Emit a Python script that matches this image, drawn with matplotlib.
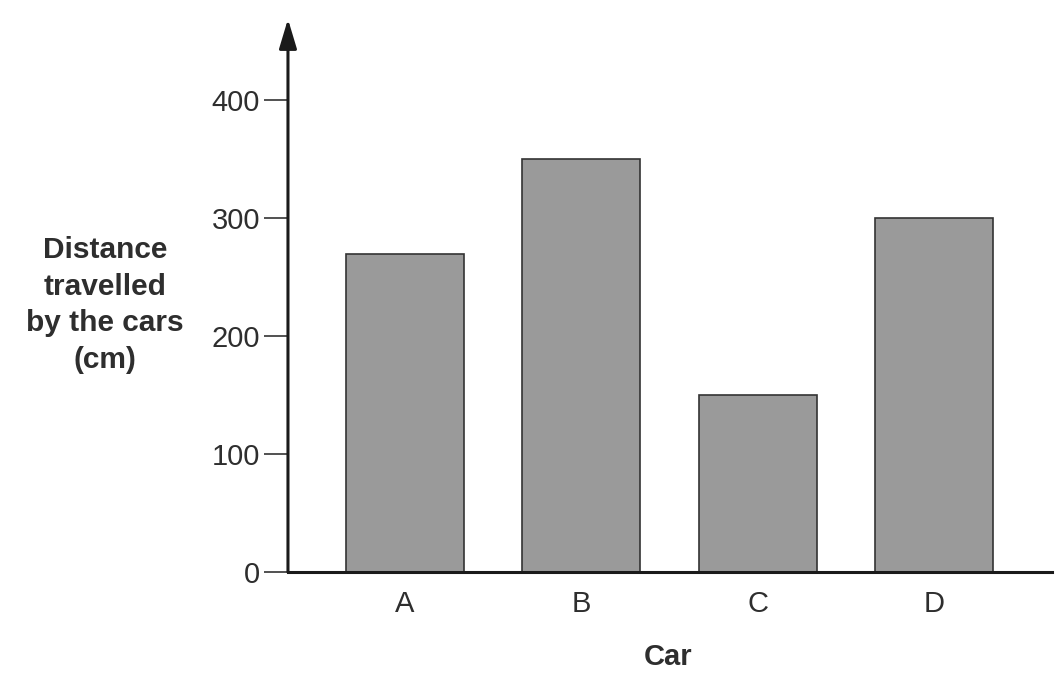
import matplotlib
matplotlib.use("Agg")
import matplotlib.pyplot as plt

# data
cars = ["A", "B", "C", "D"]
distances = [270, 350, 150, 300]
y_ticks = [0, 100, 200, 300, 400]

text_color = "#2e2e2e"
plt.rcParams["font.family"] = ["Liberation Sans", "DejaVu Sans"]

fig = plt.figure(figsize=(10.56, 6.86), dpi=100)
ax = fig.add_axes([0.2727, 0.1662, 0.7235, 0.806])

positions = list(range(len(cars)))
ax.bar(positions, distances, width=0.67, color="#9a9a9a",
       edgecolor="#333333", linewidth=1.2, zorder=2)

ax.set_xlim(-0.664, 3.67)
ax.set_ylim(0, 469)
ax.set_xticks(positions)
ax.set_xticklabels(cars)
ax.set_yticks(y_ticks)

ax.tick_params(axis="x", length=0, pad=13, labelsize=21, labelcolor=text_color)
ax.tick_params(axis="y", length=17, width=1.1, pad=3, labelsize=21,
               labelcolor=text_color, color="#222222")

for side in ["top", "right", "left"]:
    ax.spines[side].set_visible(False)
ax.spines["bottom"].set_linewidth(2.2)
ax.spines["bottom"].set_color("#1a1a1a")

# y axis drawn as an arrow
ax.annotate("", xy=(0, 1.0), xytext=(0, 0), xycoords="axes fraction",
            textcoords="axes fraction",
            arrowprops=dict(arrowstyle="-|>,head_length=0.9,head_width=0.27",
                            color="#1a1a1a", lw=2.2, mutation_scale=20,
                            shrinkA=0, shrinkB=0))

fig.text(105 / 1056, 1 - 305 / 686, "Distance\ntravelled\nby the cars\n(cm)",
         ha="center", va="center", fontsize=21.5, fontweight="bold",
         color=text_color, linespacing=1.39)
fig.text(668 / 1056, 1 - 657 / 686, "Car", ha="center", va="center",
         fontsize=21, fontweight="bold", color=text_color)

fig.savefig("out.png", dpi=100, facecolor="white")
